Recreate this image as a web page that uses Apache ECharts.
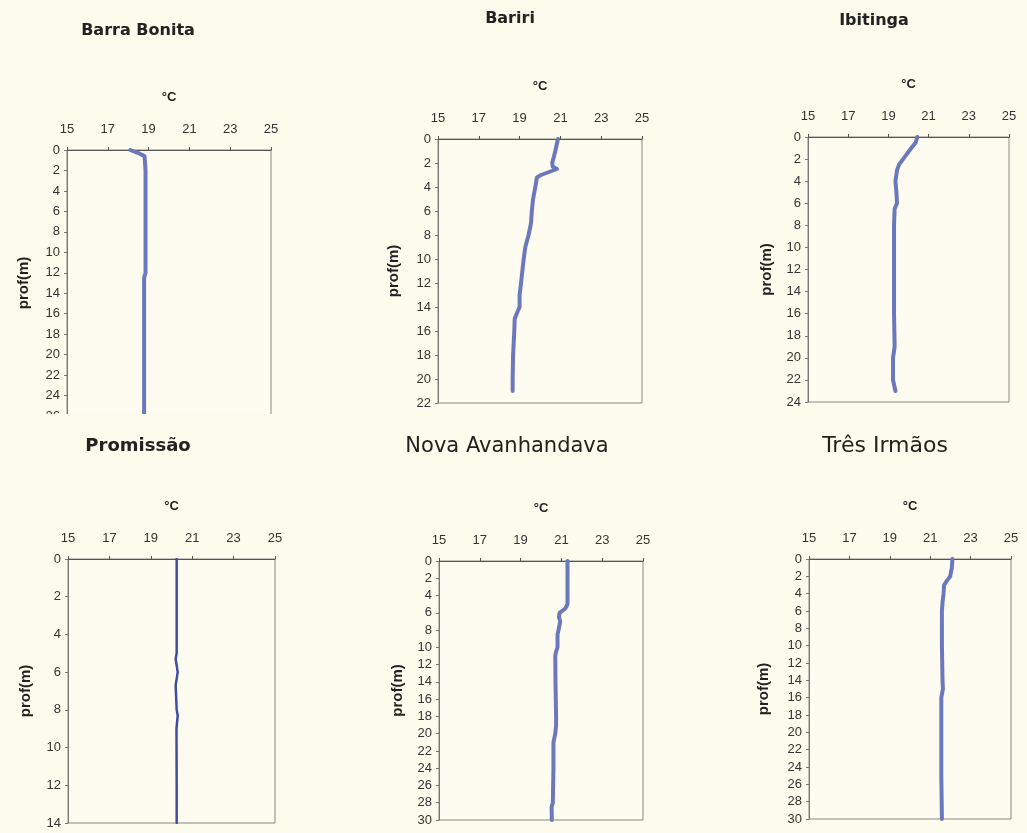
<!DOCTYPE html>
<html>
<head>
<meta charset="utf-8">
<script src="https://cdn.jsdelivr.net/npm/echarts@6/dist/echarts.min.js"></script>
<style>
html,body{margin:0;padding:0;background:#fdfbeb;}
#c{width:1027px;height:833px;}
</style>
</head>
<body>
<div id="c"></div>
<script>
// ---- data (temperature °C vs depth m) ----
var titles = ['Barra Bonita', 'Bariri', 'Ibitinga', 'Promissão', 'Nova Avanhandava', 'Três Irmãos'];
var tempTicks = [15, 17, 19, 21, 23, 25];
var depthMax = [26, 22, 24, 14, 30, 30];

var barraDepth = [0, 0.3, 0.6, 2, 4, 8, 12, 12.5, 16, 20, 26];
var barraTemp  = [18.1, 18.5, 18.8, 18.85, 18.85, 18.85, 18.85, 18.78, 18.78, 18.78, 18.78];

var baririDepth = [0, 1, 2, 2.3, 2.5, 3, 3.2, 4, 5, 6, 7, 8, 9, 10, 12, 13, 14, 14.5, 15, 16, 18, 20, 21];
var baririTemp  = [20.88, 20.75, 20.6, 20.62, 20.83, 20.05, 19.85, 19.77, 19.66, 19.6, 19.56, 19.44, 19.28, 19.2, 19.07, 19.0, 19.0, 18.87, 18.76, 18.74, 18.68, 18.66, 18.66];

var ibitingaDepth = [0, 0.5, 1, 2, 2.5, 3, 4, 5, 6, 6.5, 8, 12, 16, 19, 20, 22, 23];
var ibitingaTemp  = [20.44, 20.36, 20.14, 19.73, 19.53, 19.43, 19.35, 19.4, 19.43, 19.31, 19.28, 19.28, 19.28, 19.31, 19.23, 19.23, 19.35];

var promissaoDepth = [0, 2, 4, 5, 5.3, 6, 6.7, 8, 8.3, 9, 12, 14];
var promissaoTemp  = [20.25, 20.25, 20.25, 20.25, 20.2, 20.3, 20.2, 20.25, 20.3, 20.24, 20.25, 20.25];

var novaDepth = [0, 2, 4, 5, 5.5, 6, 6.5, 7, 8, 8.5, 10, 10.5, 11, 14, 18, 19, 20, 21, 24, 28, 28.5, 30];
var novaTemp  = [21.3, 21.3, 21.3, 21.3, 21.19, 20.91, 20.88, 20.94, 20.86, 20.81, 20.81, 20.74, 20.7, 20.71, 20.74, 20.74, 20.7, 20.61, 20.61, 20.58, 20.52, 20.53];

var tresDepth = [0, 1, 2, 2.5, 3, 4, 5, 6, 10, 14, 15, 16, 20, 25, 30];
var tresTemp  = [22.1, 22.07, 21.99, 21.83, 21.69, 21.66, 21.61, 21.58, 21.58, 21.61, 21.63, 21.55, 21.55, 21.55, 21.58];

var depths = [barraDepth, baririDepth, ibitingaDepth, promissaoDepth, novaDepth, tresDepth];
var temps  = [barraTemp, baririTemp, ibitingaTemp, promissaoTemp, novaTemp, tresTemp];

// ---- layout ----
var FONT = 'Arial, "Liberation Sans", sans-serif';
var grids = [
  {left: 67,  top: 150, width: 204, height: 266},
  {left: 438, top: 139, width: 204, height: 264},
  {left: 808, top: 137, width: 201, height: 265},
  {left: 68,  top: 559, width: 207, height: 264},
  {left: 439, top: 561, width: 204, height: 259},
  {left: 809, top: 559, width: 202, height: 260}
];
var yNameGap = [36, 37, 34, 35, 34, 38];
var titlePos = [
  {x: 138, y: 31, font: 'bold 16px "DejaVu Sans"'},
  {x: 510, y: 19, font: 'bold 16px "DejaVu Sans"'},
  {x: 874, y: 21, font: 'bold 16px "DejaVu Sans"'},
  {x: 138, y: 446, font: 'bold 18px "DejaVu Sans"'},
  {x: 507, y: 447, font: '21px "DejaVu Sans"'},
  {x: 885, y: 446, font: '22px "DejaVu Sans"'}
];

var option = {
  backgroundColor: '#fdfbeb',
  animation: false,
  grid: [], xAxis: [], yAxis: [], series: [], graphic: []
};

for (var i = 0; i < 6; i++) {
  var g = grids[i];
  option.grid.push({
    left: g.left, top: g.top, width: g.width, height: g.height,
    show: true, backgroundColor: '#fefcf0', borderColor: '#8a8a86', borderWidth: 1
  });
  option.xAxis.push({
    type: 'value', gridIndex: i, position: 'top',
    min: tempTicks[0], max: tempTicks[tempTicks.length - 1], interval: 2,
    name: '°C', nameLocation: 'middle', nameGap: 46,
    nameTextStyle: {fontFamily: FONT, fontWeight: 'bold', fontSize: 13, color: '#222'},
    axisLine: {show: true, lineStyle: {color: '#555', width: 1}},
    axisTick: {show: true, length: 3, lineStyle: {color: '#555'}},
    axisLabel: {margin: 14, fontFamily: FONT, fontSize: 13, color: '#333'},
    splitLine: {show: false}
  });
  option.yAxis.push({
    type: 'value', gridIndex: i, inverse: true,
    min: 0, max: depthMax[i], interval: 2,
    name: 'prof(m)', nameLocation: 'middle', nameGap: yNameGap[i], nameRotate: 90,
    nameTextStyle: {fontFamily: FONT, fontWeight: 'bold', fontSize: 15, color: '#222'},
    axisLine: {show: true, lineStyle: {color: '#777', width: 1}},
    axisTick: {show: true, length: 3, lineStyle: {color: '#777'}},
    axisLabel: {margin: 7, fontFamily: FONT, fontSize: 13, color: '#333'},
    splitLine: {show: false}
  });
  var d = [];
  for (var k = 0; k < depths[i].length; k++) d.push([temps[i][k], depths[i][k]]);
  option.series.push({
    type: 'line', xAxisIndex: i, yAxisIndex: i, data: d,
    showSymbol: false, symbol: 'none', smooth: false,
    lineStyle: {color: i === 3 ? '#3d4fa2' : '#6b78be', width: i === 3 ? 2.5 : 4, cap: 'round', join: 'round'}
  });
}
// titles
option.graphic = titles.map(function (s, i) {
  var t = titlePos[i];
  return {type: 'text', x: t.x, y: t.y, z: 100,
    style: {text: s, font: t.font, fill: '#222', align: 'center', verticalAlign: 'middle'}};
});
// bottom of first panel is cut off in the original figure
option.graphic.push({type: 'rect', x: 0, y: 414, z: 100,
  shape: {width: 320, height: 12}, style: {fill: '#fdfbeb'}});

var chart = echarts.init(document.getElementById('c'), null, {renderer: 'canvas'});
chart.setOption(option);
</script>
</body>
</html>
